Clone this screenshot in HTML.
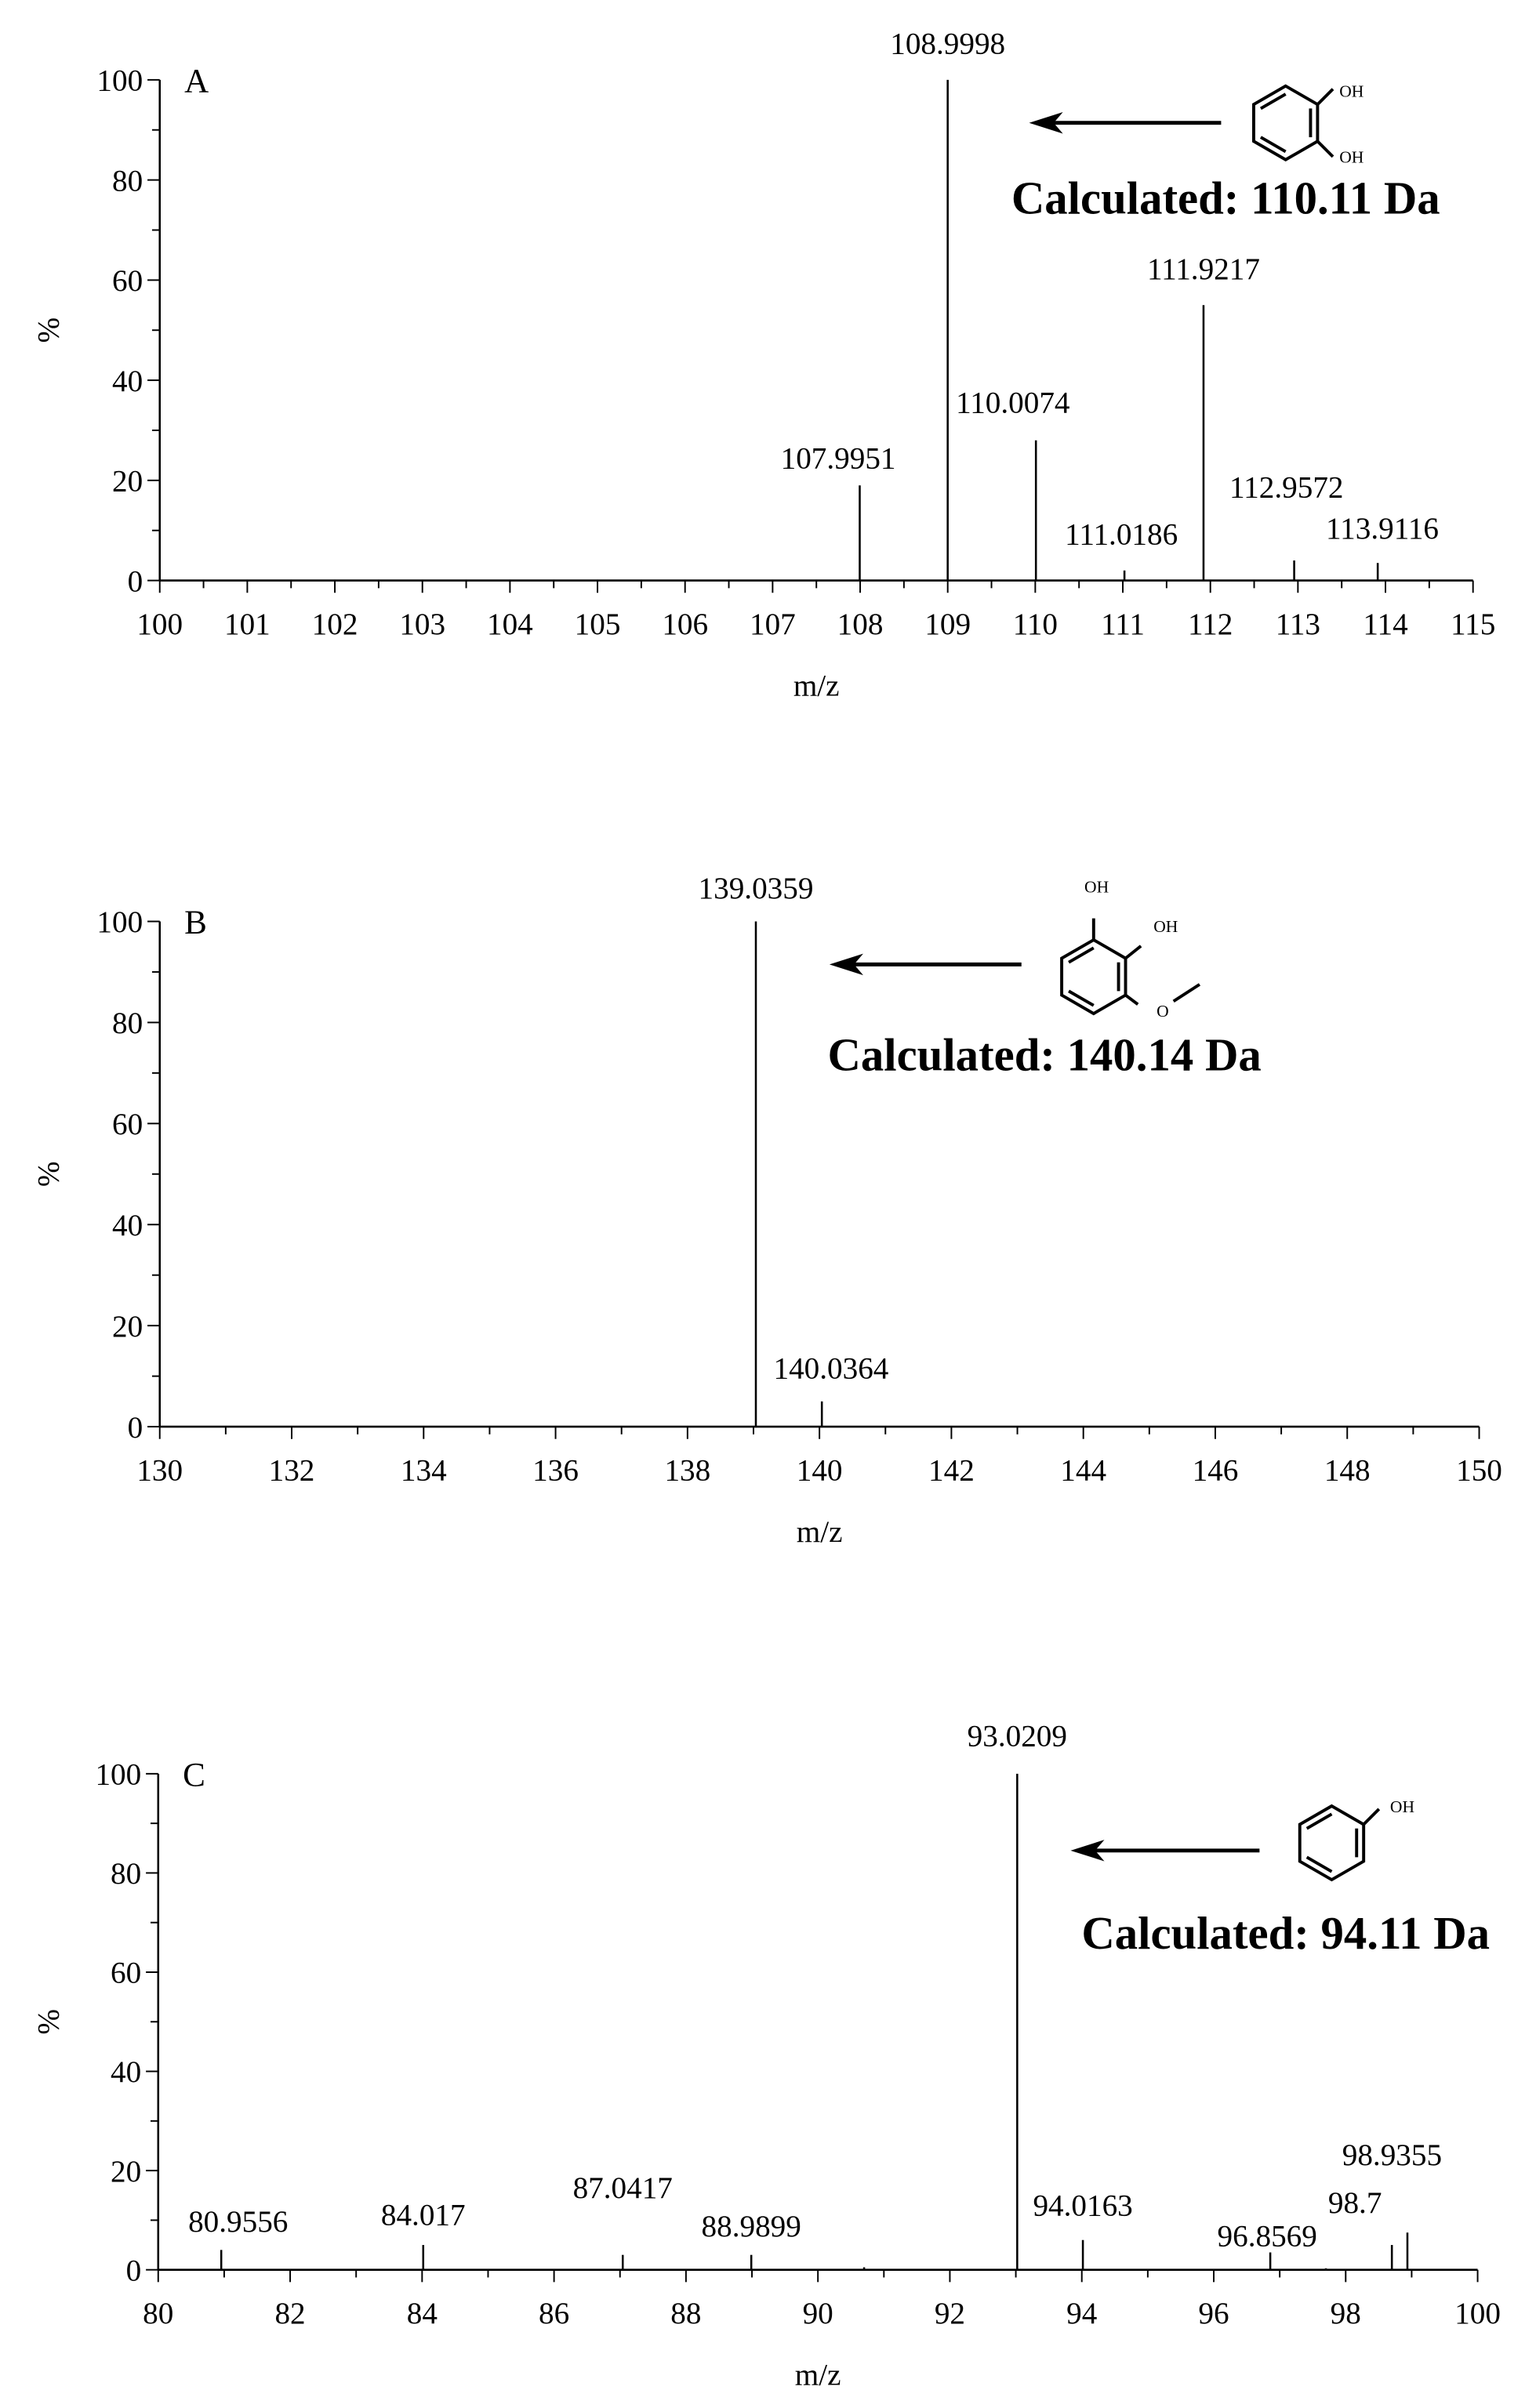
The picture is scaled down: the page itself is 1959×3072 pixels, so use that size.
<!DOCTYPE html>
<html><head><meta charset="utf-8">
<style>html,body{margin:0;padding:0;background:#fff}svg{display:block}</style>
</head><body>
<svg id="fig" width="1959" height="3072" viewBox="0 0 1000 1568" preserveAspectRatio="none" xmlns="http://www.w3.org/2000/svg" font-family="'Liberation Serif', serif"></svg>
<script>
// Panel A data
const aMz = [107.9951, 108.9998, 110.0074, 111.0186, 111.9217, 112.9572, 113.9116];
const aInt = [19, 100, 28, 2, 55, 4, 3.5];
const aLabels = ["107.9951","108.9998","110.0074","111.0186","111.9217","112.9572","113.9116"];
const aXTicks = [100,101,102,103,104,105,106,107,108,109,110,111,112,113,114,115];
// Panel B data
const bMz = [139.0359, 140.0364];
const bInt = [100, 5];
const bLabels = ["139.0359","140.0364"];
const bXTicks = [130,132,134,136,138,140,142,144,146,148,150];
// Panel C data
const cMz = [80.9556, 84.017, 87.0417, 88.9899, 90.7, 93.0209, 94.0163, 96.8569, 97.7, 98.7, 98.9355];
const cInt = [4, 5, 3, 3, 0.5, 100, 6, 3.5, 0.3, 5, 7.5];
const cLabels = ["80.9556","84.017","87.0417","88.9899","","93.0209","94.0163","96.8569","","98.7","98.9355"];
const cXTicks = [80,82,84,86,88,90,92,94,96,98,100];
const yTicks = [0,20,40,60,80,100];

const NS="http://www.w3.org/2000/svg";
const svg=document.getElementById('fig');
function mk(tag,attrs,parent){const e=document.createElementNS(NS,tag);for(const k in attrs)e.setAttribute(k,attrs[k]);(parent||svg).appendChild(e);return e;}

function panel(cfg){
  const g=mk('g',{});
  
  
  const X=v=>cfg.x0+(v-cfg.xmin)/(cfg.xmax-cfg.xmin)*(cfg.x1-cfg.x0);
  const Y=v=>cfg.y0-(v/100)*(cfg.y0-cfg.y100);
  const xa=mk('line',{x1:cfg.x0,y1:cfg.y0,x2:cfg.x1,y2:cfg.y0,stroke:'#000','stroke-width':1.3},g);
  
  const ya=mk('line',{x1:cfg.x0,y1:cfg.y0,x2:cfg.x0,y2:cfg.y100,stroke:'#000','stroke-width':1.3},g);
  
  cfg.xticks.forEach((t,i)=>{
    const x=X(t);
    mk('line',{x1:x,y1:cfg.y0,x2:x,y2:cfg.y0+8,stroke:'#000','stroke-width':1},g);
    const tx=mk('text',{x:x,y:cfg.y0+35,'font-size':20,'text-anchor':'middle'},g);
    tx.textContent=t;
    
    if(i<cfg.xticks.length-1){
      const step=cfg.xticks[i+1]-t;
      for(let m=cfg.minor;m<step-1e-9;m+=cfg.minor){
        const xm=X(t+m);
        mk('line',{x1:xm,y1:cfg.y0,x2:xm,y2:cfg.y0+5,stroke:'#000','stroke-width':1},g);
      }
    }
  });
  yTicks.forEach((t,i)=>{
    const y=Y(t);
    mk('line',{x1:cfg.x0-8,y1:y,x2:cfg.x0,y2:y,stroke:'#000','stroke-width':1},g);
    const tx=mk('text',{x:cfg.x0-11,y:y+7,'font-size':20,'text-anchor':'end'},g);
    tx.textContent=t;
    
    if(i<yTicks.length-1){const ym=Y(t+10);mk('line',{x1:cfg.x0-5,y1:ym,x2:cfg.x0,y2:ym,stroke:'#000','stroke-width':1},g);}
  });
  const yt=mk('text',{x:0,y:0,'font-size':20,'text-anchor':'middle',transform:`translate(38,${(cfg.y0+cfg.y100)/2}) rotate(-90)`},g);
  yt.textContent='%';
  const xt=mk('text',{x:(cfg.x0+cfg.x1)/2,y:cfg.y0+75,'font-size':20,'text-anchor':'middle'},g);
  xt.textContent='m/z';
  const pl=mk('text',{x:cfg.x0+16,y:cfg.y100+8,'font-size':22},g);
  pl.textContent=cfg.id.toUpperCase();
  cfg.mz.forEach((m,i)=>{
    const x=X(m);
    const ln=mk('line',{x1:x,y1:cfg.y0,x2:x,y2:Y(cfg.int[i]),stroke:'#000','stroke-width':1.3},g);
    
    
    if(cfg.labels[i]){
      const o=cfg.lab[i];
      const lt=mk('text',{x:x+o[0],y:Y(cfg.int[i])+o[1],'font-size':20,'text-anchor':'middle'},g);
      lt.textContent=cfg.labels[i];
      
      
    }
  });
  return g;
}

panel({id:'a',x0:104,x1:959,y0:378,y100:52,xmin:100,xmax:115,minor:0.5,xticks:aXTicks,mz:aMz,int:aInt,labels:aLabels,
  lab:[[-14,-11],[0,-17],[-15,-18],[-2,-17],[0,-17],[-5,-41],[3,-16]]});
panel({id:'b',x0:104,x1:963,y0:929,y100:600,xmin:130,xmax:150,minor:1,xticks:bXTicks,mz:bMz,int:bInt,labels:bLabels,
  lab:[[0,-15],[6,-15]]});
panel({id:'c',x0:103,x1:962,y0:1478,y100:1155,xmin:80,xmax:100,minor:1,xticks:cXTicks,mz:cMz,int:cInt,labels:cLabels,
  lab:[[11,-12],[0,-13],[0,-37],[0,-12],[0,0],[0,-18],[0,-16],[-2,-4],[0,0],[-24,-21],[-10,-44]]});

function arrow(x1,x2,y,name){
  const g=mk('g',{});
  mk('line',{x1:x1,y1:y,x2:x2+14,y2:y,stroke:'#000','stroke-width':2.5},g);
  mk('polygon',{points:`${x2},${y} ${x2+22},${y-7} ${x2+16},${y} ${x2+22},${y+7}`,fill:'#000'},g);
}
function ring(cx,cy,r,name,inner){
  const g=mk('g',{});
  const pts=[];for(let k=0;k<6;k++){const a=Math.PI/180*(90+60*k);pts.push([cx+r*Math.cos(a),cy-r*Math.sin(a)]);}
  mk('polygon',{points:pts.map(p=>p.join(',')).join(' '),fill:'none',stroke:'#000','stroke-width':2},g);
  inner.forEach(k=>{const p=pts[k],q=pts[(k+1)%6];const s=0.78;
    const a=[cx+(p[0]-cx)*s,cy+(p[1]-cy)*s],b=[cx+(q[0]-cx)*s,cy+(q[1]-cy)*s];
    mk('line',{x1:a[0],y1:a[1],x2:b[0],y2:b[1],stroke:'#000','stroke-width':2},g);});
  return pts;
}
function txt(x,y,s,size,bold,name,anchor){
  const t=mk('text',{x:x,y:y,'font-size':size,'font-weight':bold?'bold':'normal','text-anchor':anchor||'middle'});
  t.textContent=s;
}
// A
arrow(795,670,80,'arrow-a');
let p=ring(837,80,24,'catechol-structure',[4,0,2]);
mk('line',{x1:p[5][0],y1:p[5][1],x2:p[5][0]+10,y2:p[5][1]-10,stroke:'#000','stroke-width':2});
mk('line',{x1:p[4][0],y1:p[4][1],x2:p[4][0]+10,y2:p[4][1]+10,stroke:'#000','stroke-width':2});
txt(872,63,'OH',11,false,'oh-label','start');
txt(872,106,'OH',11,false,'oh-label','start');
txt(798,139,'Calculated: 110.11  Da',30,true,'calculated-mass-a');
// B
arrow(665,540,628,'arrow-b');
p=ring(712,636,24,'methoxycatechol-structure',[4,0,2]);
mk('line',{x1:p[0][0],y1:p[0][1],x2:p[0][0],y2:p[0][1]-14,stroke:'#000','stroke-width':2});
mk('line',{x1:p[5][0],y1:p[5][1],x2:p[5][0]+10,y2:p[5][1]-8,stroke:'#000','stroke-width':2});
mk('line',{x1:p[4][0],y1:p[4][1],x2:p[4][0]+8,y2:p[4][1]+6,stroke:'#000','stroke-width':2});
mk('line',{x1:764,y1:652,x2:781,y2:641,stroke:'#000','stroke-width':2});
txt(706,581,'OH',11,false,'oh-label','start');
txt(751,607,'OH',11,false,'oh-label','start');
txt(753,662,'O',11,false,'o-label','start');
txt(680,697,'Calculated: 140.14  Da',30,true,'calculated-mass-b');
// C
arrow(820,697,1205,'arrow-c');
p=ring(867,1200,24,'phenol-structure',[4,0,2]);
mk('line',{x1:p[5][0],y1:p[5][1],x2:p[5][0]+10,y2:p[5][1]-10,stroke:'#000','stroke-width':2});
txt(905,1180,'OH',11,false,'oh-label','start');
txt(837,1269,'Calculated: 94.11  Da',30,true,'calculated-mass-c');
</script>
</body></html>
